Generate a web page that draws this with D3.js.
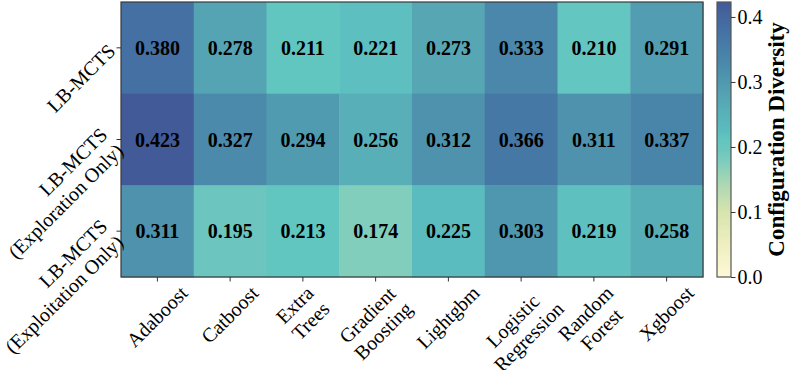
<!DOCTYPE html>
<html><head><meta charset="utf-8">
<script src="https://cdn.jsdelivr.net/npm/d3@7"></script>
<style>
html,body{margin:0;padding:0;background:#fff;}
svg{display:block;font-family:"Liberation Serif","Times New Roman",serif;}
</style></head>
<body><svg id="c" width="792" height="370"></svg>
<script>
// ---- data ----
const models = ["Adaboost","Catboost","Extra\nTrees","Gradient\nBoosting","Lightgbm","Logistic\nRegression","Random\nForest","Xgboost"];
const methods = ["LB-MCTS","LB-MCTS\n(Exploration Only)","LB-MCTS\n(Exploitation Only)"];
const lbMcts        = [0.380,0.278,0.211,0.221,0.273,0.333,0.210,0.291];
const explorationOnly = [0.423,0.327,0.294,0.256,0.312,0.366,0.311,0.337];
const exploitationOnly= [0.311,0.195,0.213,0.174,0.225,0.303,0.219,0.258];
const seriesValues = [lbMcts, explorationOnly, exploitationOnly];
const colorbarTicks = [0.0,0.1,0.2,0.3,0.4];
const colorbarTitle = "Configuration Diversity";

// colormap stops (fraction of max -> colour)
const cmapStops = [0,0.12,0.24,0.35,0.41,0.46,0.5,0.53,0.6,0.66,0.72,0.78,0.86,0.9,1.0];
const cmapColors = ["#fdf8d6","#eeefc0","#d6e4ae","#a6d6b4","#82cebc","#6cc6bf","#62c6c0","#5bbcbf","#58b0b8","#55a3b3","#4f96ae","#4a88aa","#4679a6","#4570a3","#425a98"];

const svg = d3.select("#c");
const L=121, R=703, T=2, B=277;
const vmax = d3.max(seriesValues.flat());

const x = d3.scaleBand().domain(models).range([L,R]).padding(0);
const y = d3.scaleBand().domain(methods).range([T,B]).padding(0);
const color = d3.scaleLinear().domain(cmapStops.map(s=>s*vmax)).range(cmapColors).interpolate(d3.interpolateRgb).clamp(true);

const cells = [];
methods.forEach((m,i)=>models.forEach((c,j)=>cells.push({m,c,v:seriesValues[i][j]})));

svg.append("g").selectAll("rect").data(cells).join("rect")
  .attr("x",d=>x(d.c)).attr("y",d=>y(d.m))
  .attr("width",x.bandwidth()+0.5).attr("height",y.bandwidth()+0.5)
  .attr("fill",d=>color(d.v));

svg.append("g").selectAll("text").data(cells).join("text")
  .attr("x",d=>x(d.c)+x.bandwidth()/2).attr("y",d=>y(d.m)+y.bandwidth()/2)
  .attr("text-anchor","middle").attr("dy","0.35em")
  .style("font-size","20px").style("font-weight","bold").attr("fill","#000")
  .text(d=>d.v.toFixed(3));

svg.append("rect").attr("x",L).attr("y",T).attr("width",R-L).attr("height",B-T)
  .attr("fill","none").attr("stroke","#3a3a3a").attr("stroke-width",1.2);

// ticks
const fs = 20, lh = 22.5;
// y ticks
methods.forEach(m=>{
  const cy = y(m)+y.bandwidth()/2;
  svg.append("line").attr("x1",L-4.5).attr("x2",L).attr("y1",cy).attr("y2",cy).attr("stroke","#333").attr("stroke-width",1);
  const lines = m.split("\n");
  const t = svg.append("text").attr("transform",`translate(${L-9},${cy}) rotate(-45)`)
    .attr("text-anchor","end").style("font-size",fs+"px").attr("fill","#000");
  lines.forEach((ln,k)=>{
    t.append("tspan").attr("x",0).attr("y",(k-(lines.length-1)/2)*lh + fs*0.32).text(ln);
  });
});
// x ticks
models.forEach(c=>{
  const cx = x(c)+x.bandwidth()/2;
  svg.append("line").attr("x1",cx).attr("x2",cx).attr("y1",B).attr("y2",B+4.5).attr("stroke","#333").attr("stroke-width",1);
  const lines = c.split("\n");
  const t = svg.append("text").attr("text-anchor","middle").style("font-size",fs+"px").attr("fill","#000");
  const spans = lines.map((ln,k)=>t.append("tspan").attr("x",0).attr("y",(k-(lines.length-1)/2)*lh + fs*0.32).text(ln));
  const W = d3.max(spans.map(s=>s.node().getComputedTextLength()));
  const H = (lines.length-1)*lh + fs*1.1;
  const half = (W+H)*Math.SQRT1_2/2;
  t.attr("transform",`translate(${cx},${282+half}) rotate(-45)`);
});

// colorbar
const cbL=717, cbW=14;
const grad = svg.append("defs").append("linearGradient").attr("id","cbg")
  .attr("x1","0").attr("y1","1").attr("x2","0").attr("y2","0");
cmapStops.forEach((s,i)=>grad.append("stop").attr("offset",s).attr("stop-color",cmapColors[i]));
svg.append("rect").attr("x",cbL).attr("y",T).attr("width",cbW).attr("height",B-T).attr("fill","url(#cbg)")
  .attr("stroke","#555").attr("stroke-width",1.2);
const cy = d3.scaleLinear().domain([0,vmax]).range([B,T]);
const cbAxis = d3.axisRight(cy).tickValues(colorbarTicks).tickFormat(d3.format(".1f")).tickSize(4.5).tickPadding(2);
const ga = svg.append("g").attr("transform",`translate(${cbL+cbW},0)`).call(cbAxis);
ga.select(".domain").remove();
ga.selectAll("line").attr("stroke","#333");
ga.selectAll("text").style("font-size","20px").attr("fill","#000").attr("font-family","Liberation Serif, Times New Roman, serif");

svg.append("text").attr("transform",`translate(784,${(T+B)/2}) rotate(-90)`)
  .attr("text-anchor","middle").style("font-size","23px").style("font-weight","bold").text(colorbarTitle);
</script></body></html>
